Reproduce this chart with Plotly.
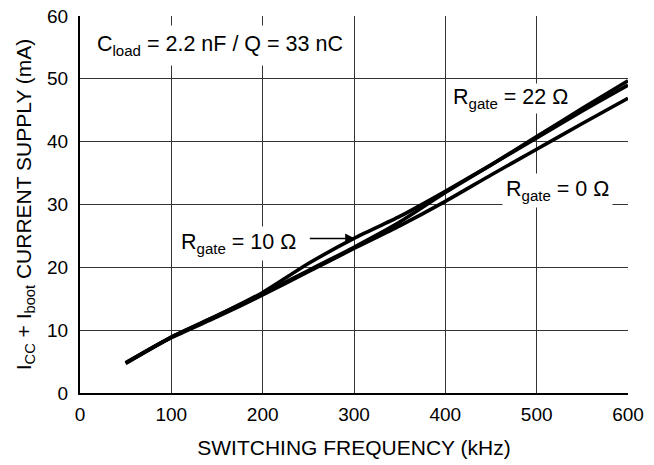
import plotly.graph_objects as go

freq_khz = [50, 100, 150, 200, 250, 300, 350, 400, 450, 500, 550, 600]
i_rgate_22 = [4.8, 8.9, 12.3, 15.8, 19.5, 23.2, 27.2, 31.9, 36.3, 40.8, 45.3, 49.7]
i_rgate_10 = [4.8, 8.9, 12.3, 16.0, 20.6, 24.6, 28.1, 32.1, 36.3, 40.6, 44.9, 49.0]
i_rgate_0 = [4.7, 8.8, 12.1, 15.6, 19.3, 23.0, 26.6, 30.5, 34.7, 38.8, 42.9, 46.9]

x_ticks = [0, 100, 200, 300, 400, 500, 600]
y_ticks = [0, 10, 20, 30, 40, 50, 60]

FONT = "Liberation Sans, Arial, Helvetica, sans-serif"

fig = go.Figure()
for name, ys in [("R<sub>gate</sub> = 22 Ω", i_rgate_22),
                 ("R<sub>gate</sub> = 10 Ω", i_rgate_10),
                 ("R<sub>gate</sub> = 0 Ω", i_rgate_0)]:
    fig.add_trace(go.Scatter(x=freq_khz, y=ys, mode="lines", name=name,
                             line=dict(color="black", width=3.6, shape="spline", smoothing=0.6),
                             showlegend=False))

ann_font = dict(family=FONT, size=21.5, color="black")
fig.add_annotation(x=11, y=55.3, xanchor="left", yanchor="middle", showarrow=False,
                   text="C<sub>load</sub> = 2.2 nF / Q = 33 nC", font=ann_font,
                   bgcolor="white", borderpad=6)
fig.add_annotation(x=471, y=46.9, showarrow=False, text="R<sub>gate</sub> = 22 Ω",
                   font=ann_font, bgcolor="white", borderpad=1)
fig.add_annotation(x=523, y=32.3, showarrow=False, text="R<sub>gate</sub> = 0 Ω",
                   font=ann_font, bgcolor="white", borderpad=3)
fig.add_annotation(x=174, y=23.8, showarrow=False, text="R<sub>gate</sub> = 10 Ω",
                   font=ann_font, bgcolor="white", borderpad=3)
fig.add_annotation(x=301, y=24.6, ax=250, ay=24.6, axref="x", ayref="y",
                   xref="x", yref="y", text="", showarrow=True,
                   arrowhead=2, arrowsize=1.3, arrowwidth=1.5, arrowcolor="black")

fig.update_layout(
    width=654, height=465,
    margin=dict(l=72, r=34, t=8, b=80, autoexpand=False),
    paper_bgcolor="white", plot_bgcolor="white",
    font=dict(family=FONT, color="black", size=19),
    xaxis=dict(range=[0, 600], tickvals=x_ticks, showgrid=True, gridcolor="#333333", gridwidth=1,
               showline=True, linecolor="black", linewidth=2, zeroline=False, automargin=False,
               ticks="", ticklabelstandoff=3, tickfont=dict(size=19), ticklabeloverflow="allow",
               title=dict(text="SWITCHING FREQUENCY (kHz)", font=dict(size=21), standoff=17)),
    yaxis=dict(range=[0, 60], tickvals=y_ticks, showgrid=True, gridcolor="#333333", gridwidth=1,
               showline=True, linecolor="black", linewidth=2, zeroline=False, automargin=False,
               ticks="", ticklabelstandoff=6, tickfont=dict(size=19), ticklabeloverflow="allow",
               title=dict(text="I<sub>CC</sub> + I<sub>boot</sub> CURRENT SUPPLY (mA)",
                          font=dict(size=21), standoff=10)),
)

fig.write_html("out.html")
